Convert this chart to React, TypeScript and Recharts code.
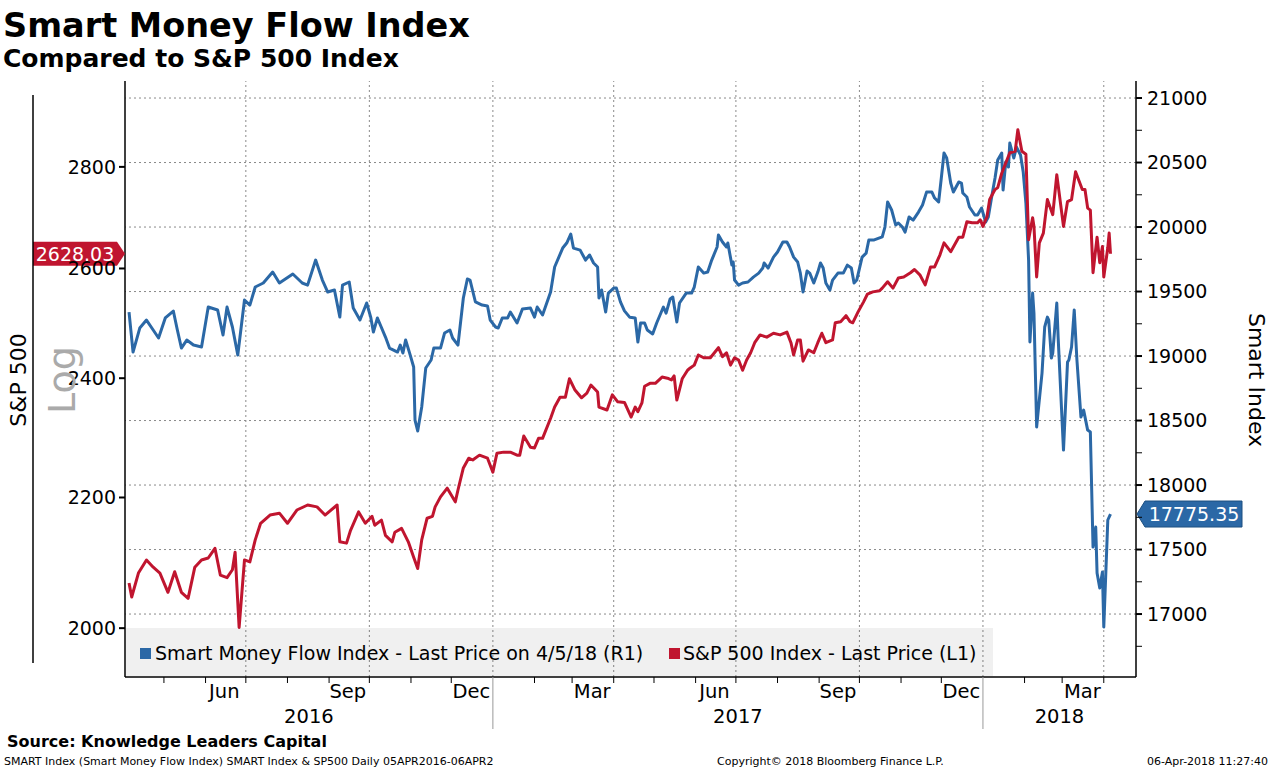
import React from 'react';
import { LineChart, Line, XAxis, YAxis, ReferenceLine, ReferenceDot } from 'recharts';

const FONT = '"DejaVu Sans", Verdana, sans-serif';
const BLUE = '#2b68a6';
const RED = '#c0152f';
const GRID = '#8a8a8a';

// day offsets are counted from 2016-04-05 (first trading day shown)
const ORIGIN = Date.UTC(2016, 3, 5);
const day = (iso: string) => {
  const [y, m, d] = iso.split('-').map(Number);
  return Math.round((Date.UTC(y, m - 1, d) - ORIGIN) / 86400000);
};

const X_DOMAIN: [number, number] = [day('2016-04-02'), day('2018-04-25')];
const LEFT_DOMAIN: [number, number] = [1930, 2981];
const RIGHT_DOMAIN: [number, number] = [16512, 21132];

// Smart Money Flow Index, [day, value], right axis
const smartIndex: [number, number][] = [
  [0, 19341], [3, 19031], [8, 19217], [13, 19279], [18, 19202], [22, 19140], [27, 19295], [33, 19349],
  [36, 19202], [39, 19062], [43, 19124], [48, 19085], [54, 19070], [59, 19380], [66, 19357], [70, 19163],
  [73, 19380], [77, 19225], [81, 19008], [86, 19434], [90, 19395], [94, 19535], [100, 19566], [107, 19651],
  [112, 19566], [122, 19636], [129, 19566], [133, 19550], [139, 19744], [144, 19589], [148, 19496], [153, 19512],
  [157, 19302], [159, 19550], [164, 19574], [167, 19372], [172, 19279], [177, 19411], [180, 19302], [182, 19186],
  [185, 19295], [191, 19147], [194, 19062], [200, 19031], [202, 19085], [204, 19023], [206, 19124], [209, 19023],
  [212, 18915], [213, 18504], [215, 18419], [218, 18605], [221, 18907], [225, 18969], [227, 19062], [232, 19062],
  [235, 19178], [239, 19202], [241, 19140], [245, 19085], [249, 19450], [252, 19597], [254, 19589], [258, 19419],
  [263, 19395], [267, 19388], [269, 19279], [273, 19225], [275, 19217], [278, 19295], [282, 19295], [284, 19341],
  [289, 19256], [293, 19364], [299, 19372], [302, 19302], [304, 19380], [308, 19318], [314, 19496], [317, 19690],
  [323, 19837], [326, 19876], [329, 19946], [331, 19837], [336, 19821], [340, 19744], [343, 19783], [346, 19721],
  [349, 19690], [350, 19450], [352, 19512], [355, 19341], [357, 19488], [361, 19527], [363, 19527], [366, 19420],
  [369, 19350], [373, 19300], [377, 19295], [379, 19109], [381, 19256], [384, 19256], [386, 19202], [390, 19171],
  [393, 19256], [398, 19380], [400, 19333], [403, 19442], [405, 19457], [408, 19264], [410, 19411], [415, 19488],
  [419, 19488], [421, 19535], [424, 19690], [428, 19643], [431, 19651], [434, 19744], [438, 19845], [439, 19938],
  [442, 19884], [445, 19845], [446, 19876], [449, 19705], [450, 19729], [451, 19589], [454, 19550], [457, 19566],
  [461, 19574], [465, 19612], [469, 19643], [472, 19682], [473, 19721], [476, 19682], [480, 19767], [483, 19806],
  [487, 19884], [490, 19884], [492, 19845], [495, 19767], [498, 19729], [500, 19643], [502, 19496], [505, 19659],
  [507, 19643], [510, 19566], [513, 19651], [515, 19721], [517, 19682], [519, 19566], [522, 19512], [524, 19589],
  [528, 19643], [532, 19643], [535, 19705], [538, 19682], [540, 19566], [542, 19589], [546, 19767], [549, 19798],
  [551, 19899], [555, 19900], [561, 19923], [563, 20000], [565, 20194], [568, 20132], [571, 20016], [573, 20031],
  [576, 20000], [578, 19961], [581, 20078], [584, 20054], [588, 20116], [591, 20171], [594, 20271], [598, 20271],
  [600, 20225], [603, 20194], [605, 20380], [607, 20574], [609, 20535], [612, 20341], [614, 20271], [618, 20349],
  [620, 20341], [621, 20264], [624, 20233], [626, 20155], [630, 20093], [632, 20093], [635, 20147], [638, 20039],
  [640, 20078], [643, 20264], [645, 20380], [647, 20519], [650, 20574], [651, 20287], [653, 20504], [655, 20465],
  [656, 20651], [659, 20535], [661, 20620], [664, 20558], [666, 20426], [668, 20186], [670, 19744], [671, 19109],
  [673, 19488], [674, 19333], [676, 18450], [677, 18558], [680, 18868], [682, 19225], [684, 19302], [685, 19279],
  [687, 18984], [688, 19023], [691, 19411], [692, 19147], [696, 18271], [699, 18953], [700, 18969], [702, 19070],
  [704, 19357], [706, 18969], [709, 18527], [711, 18581], [714, 18426], [716, 18411], [718, 17519], [720, 17674],
  [721, 17318], [723, 17202], [725, 17326], [726, 16899], [729, 17729], [731, 17775.35],
];

// S&P 500 Index, [day, value], left (log) axis
const sp500: [number, number][] = [
  [0, 2067], [2, 2046], [7, 2082], [13, 2102], [18, 2091], [23, 2082], [29, 2053], [34, 2084],
  [39, 2053], [44, 2044], [49, 2091], [54, 2102], [59, 2105], [64, 2120], [68, 2079], [73, 2075],
  [77, 2087], [79, 2114], [82, 2001], [86, 2102], [90, 2099], [94, 2133], [98, 2159], [105, 2172],
  [112, 2175], [118, 2159], [125, 2180], [133, 2188], [140, 2185], [146, 2172], [155, 2188], [157, 2130],
  [162, 2128], [165, 2148], [171, 2177], [176, 2159], [181, 2170], [183, 2156], [188, 2164], [191, 2140],
  [196, 2130], [198, 2145], [203, 2151], [208, 2130], [212, 2106], [215, 2089], [218, 2133], [222, 2167],
  [226, 2170], [228, 2185], [232, 2201], [237, 2215], [243, 2193], [245, 2212], [249, 2248], [253, 2264],
  [256, 2261], [261, 2269], [267, 2264], [271, 2241], [274, 2272], [279, 2274], [284, 2274], [289, 2269],
  [291, 2269], [294, 2301], [299, 2282], [302, 2281], [305, 2297], [308, 2297], [314, 2331], [317, 2350],
  [321, 2367], [325, 2367], [328, 2399], [332, 2380], [337, 2366], [341, 2374], [344, 2388], [349, 2376],
  [350, 2350], [356, 2345], [360, 2371], [364, 2359], [369, 2358], [374, 2333], [377, 2350], [379, 2342],
  [382, 2357], [384, 2386], [388, 2391], [392, 2391], [397, 2402], [401, 2400], [404, 2397], [406, 2404],
  [408, 2362], [412, 2399], [416, 2414], [418, 2418], [421, 2423], [424, 2441], [428, 2436], [433, 2436],
  [436, 2445], [439, 2454], [442, 2438], [445, 2445], [448, 2423], [451, 2436], [454, 2432], [457, 2414],
  [460, 2432], [463, 2445], [466, 2463], [470, 2477], [475, 2473], [480, 2480], [485, 2477], [490, 2482],
  [493, 2463], [495, 2441], [498, 2468], [500, 2468], [502, 2430], [506, 2450], [510, 2445], [513, 2463],
  [516, 2480], [519, 2463], [524, 2468], [526, 2499], [530, 2501], [534, 2512], [537, 2501], [539, 2499],
  [543, 2519], [547, 2537], [550, 2552], [554, 2556], [559, 2558], [561, 2563], [565, 2575], [569, 2563],
  [573, 2582], [577, 2584], [582, 2592], [585, 2598], [589, 2588], [593, 2569], [597, 2603], [600, 2603],
  [604, 2626], [607, 2649], [612, 2632], [615, 2646], [618, 2660], [621, 2660], [624, 2690], [628, 2688],
  [632, 2688], [634, 2694], [636, 2681], [639, 2700], [641, 2734], [645, 2754], [647, 2758], [650, 2787],
  [653, 2808], [656, 2829], [660, 2832], [662, 2877], [665, 2832], [668, 2826], [670, 2655], [673, 2698],
  [674, 2681], [676, 2584], [678, 2649], [681, 2668], [684, 2734], [688, 2704], [691, 2784], [696, 2681],
  [699, 2730], [702, 2734], [705, 2790], [710, 2754], [712, 2754], [714, 2717], [716, 2713], [718, 2592],
  [721, 2660], [723, 2611], [725, 2642], [726, 2584], [729, 2640], [730, 2668], [731, 2628.03],
];

const leftTicks = [2000, 2200, 2400, 2600, 2800];
const rightTicks = [16750, 17000, 17250, 17500, 17750, 18000, 18250, 18500, 18750, 19000, 19250,
  19500, 19750, 20000, 20250, 20500, 20750, 21000];
const gridValues = [17000, 17500, 18000, 18500, 19000, 19500, 20000, 20500, 21000];

const monthStarts = ['2016-05-01', '2016-06-01', '2016-07-01', '2016-08-01', '2016-09-01', '2016-10-01',
  '2016-11-01', '2016-12-01', '2017-01-01', '2017-02-01', '2017-03-01', '2017-04-01', '2017-05-01',
  '2017-06-01', '2017-07-01', '2017-08-01', '2017-09-01', '2017-10-01', '2017-11-01', '2017-12-01',
  '2018-01-01', '2018-02-01', '2018-03-01', '2018-04-01'];
const quarterStarts = ['2016-07-01', '2016-10-01', '2017-01-01', '2017-04-01', '2017-07-01',
  '2017-10-01', '2018-01-01', '2018-04-01'];
const yearStarts = ['2017-01-01', '2018-01-01'];
const monthLabels = ['Jun', 'Sep', 'Dec', 'Mar', 'Jun', 'Sep', 'Dec', 'Mar'];
const monthLabelDates = ['2016-06-15', '2016-09-15', '2016-12-16', '2017-03-16', '2017-06-15',
  '2017-09-15', '2017-12-16', '2018-03-16'];
const years = ['2016', '2017', '2018'];

const monthStartDays = monthStarts.map(day);
const yearStartDays = yearStarts.map(day);
const monthLabelDays = monthLabelDates.map(day);
const yearBounds = [X_DOMAIN[0], ...yearStartDays, X_DOMAIN[1]];
const yearCenters = years.map((_, i) => (yearBounds[i] + yearBounds[i + 1]) / 2);
const xTicks = [...monthStartDays, ...monthLabelDays, ...yearCenters];

const smartData = smartIndex.map(([d, v]) => ({ d, v }));
const spData = sp500.map(([d, v]) => ({ d, v }));
const lastSmart = smartIndex[smartIndex.length - 1][1];
const lastSp = sp500[sp500.length - 1][1];

const XTick = (props: any) => {
  const { x, y, payload } = props;
  const v = payload.value;
  if (yearStartDays.includes(v)) {
    return <line x1={x} x2={x} y1={y} y2={y + 52} stroke="#999" strokeWidth={1} />;
  }
  if (monthStartDays.includes(v)) {
    return <line x1={x} x2={x} y1={y} y2={y + 6} stroke="#000" strokeWidth={1} />;
  }
  const mi = monthLabelDays.indexOf(v);
  if (mi >= 0) {
    return (
      <text x={x} y={y + 21} textAnchor="middle" fontSize={19.5} fontFamily={FONT} fill="#000">
        {monthLabels[mi]}
      </text>
    );
  }
  const yi = yearCenters.indexOf(v);
  if (yi >= 0) {
    return (
      <text x={x} y={y + 46} textAnchor="middle" fontSize={19.5} fontFamily={FONT} fill="#000">
        {years[yi]}
      </text>
    );
  }
  return <g />;
};

const RightTick = (props: any) => {
  const { x, y, payload } = props;
  const major = payload.value % 500 === 0;
  return (
    <g>
      <line x1={x} x2={x + 6} y1={y} y2={y} stroke="#000" strokeWidth={major ? 2 : 1} />
      {major && (
        <text x={x + 11} y={y} dy="0.36em" fontSize={19} fontFamily={FONT} fill="#000">
          {payload.value}
        </text>
      )}
    </g>
  );
};

const LeftTag = (props: any) => {
  const { cx, cy } = props;
  const pts = `${cx - 92},${cy - 12} ${cx - 8},${cy - 12} ${cx},${cy} ${cx - 8},${cy + 12} ${cx - 92},${cy + 12}`;
  return (
    <g>
      <polygon points={pts} fill={RED} />
      <text x={cx - 50} y={cy} dy="0.36em" textAnchor="middle" fontSize={19} fontFamily={FONT} fill="#fff">
        {lastSp.toFixed(2)}
      </text>
    </g>
  );
};

const RightTag = (props: any) => {
  const { cx, cy } = props;
  const pts = `${cx + 1},${cy} ${cx + 9},${cy - 13} ${cx + 106},${cy - 13} ${cx + 106},${cy + 13} ${cx + 9},${cy + 13}`;
  return (
    <g>
      <polygon points={pts} fill={BLUE} stroke="#1d4f80" strokeWidth={1} />
      <text x={cx + 58} y={cy} dy="0.36em" textAnchor="middle" fontSize={19} fontFamily={FONT} fill="#fff">
        {lastSmart.toFixed(2)}
      </text>
    </g>
  );
};

const App: React.FC = () => {
  return (
    <div style={{ position: 'absolute', left: 0, top: 0, width: 1272, height: 770, background: '#fff' }}>
      <LineChart width={1272} height={770} margin={{ top: 81, right: 36, bottom: 0, left: 25 }}>
        <XAxis
          xAxisId="x"
          type="number"
          dataKey="d"
          domain={X_DOMAIN}
          allowDataOverflow
          ticks={xTicks}
          interval={0}
          tick={(p: any) => <XTick {...p} />}
          tickLine={false}
          tickSize={0}
          tickMargin={0}
          height={93}
          axisLine={{ stroke: '#000', strokeWidth: 1.5 }}
        />
        <YAxis
          yAxisId="left"
          orientation="left"
          type="number"
          scale="log"
          domain={LEFT_DOMAIN}
          allowDataOverflow
          ticks={leftTicks}
          interval={0}
          width={100}
          tickSize={6}
          tickMargin={3}
          tickLine={{ stroke: '#000', strokeWidth: 2 }}
          axisLine={{ stroke: '#000', strokeWidth: 1.5 }}
          tick={{ fontSize: 19, fontFamily: FONT, fill: '#000' }}
        />
        <YAxis
          yAxisId="right"
          orientation="right"
          type="number"
          domain={RIGHT_DOMAIN}
          allowDataOverflow
          ticks={rightTicks}
          interval={0}
          width={100}
          tickSize={0}
          tickMargin={0}
          tickLine={false}
          axisLine={{ stroke: '#000', strokeWidth: 1.5 }}
          tick={(p: any) => <RightTick {...p} />}
        />
        {gridValues.map((v) => (
          <ReferenceLine key={`h${v}`} xAxisId="x" yAxisId="right" y={v} stroke={GRID} strokeDasharray="2 3" />
        ))}
        {quarterStarts.map(day).map((d) => (
          <ReferenceLine key={`v${d}`} xAxisId="x" yAxisId="right" x={d} stroke={GRID} strokeDasharray="2 3" />
        ))}
        <Line
          data={smartData}
          xAxisId="x"
          yAxisId="right"
          dataKey="v"
          type="linear"
          stroke={BLUE}
          strokeWidth={3}
          strokeLinejoin="round"
          dot={false}
          isAnimationActive={false}
        />
        <Line
          data={spData}
          xAxisId="x"
          yAxisId="left"
          dataKey="v"
          type="linear"
          stroke={RED}
          strokeWidth={3}
          strokeLinejoin="round"
          dot={false}
          isAnimationActive={false}
        />
        <ReferenceDot xAxisId="x" yAxisId="left" x={X_DOMAIN[0]} y={lastSp} shape={(p: any) => <LeftTag {...p} />} />
        <ReferenceDot xAxisId="x" yAxisId="right" x={X_DOMAIN[1]} y={lastSmart} shape={(p: any) => <RightTag {...p} />} />
      </LineChart>

      <svg
        width={1272}
        height={770}
        style={{ position: 'absolute', left: 0, top: 0, pointerEvents: 'none' }}
        fontFamily={FONT}
      >
        <text x={3} y={37} fontSize={33.5} fontWeight="bold" fill="#000">Smart Money Flow Index</text>
        <text x={3} y={67} fontSize={25} fontWeight="bold" fill="#000">Compared to S&amp;P 500 Index</text>

        <line x1={33} x2={33} y1={95} y2={663} stroke="#000" strokeWidth={1.5} />
        <text x={18} y={380} fontSize={22} textAnchor="middle" dominantBaseline="central"
          transform="rotate(-90 18 380)" fill="#000">S&amp;P 500</text>
        <text x={62} y={380} fontSize={38} textAnchor="middle" dominantBaseline="central"
          transform="rotate(-90 62 380)" fill="#aaa">Log</text>
        <text x={1256} y={380} fontSize={22} textAnchor="middle" dominantBaseline="central"
          transform="rotate(90 1256 380)" fill="#000">Smart Index</text>

        <rect x={126} y={628} width={867} height={48} fill="#000" fillOpacity={0.06} />
        <rect x={140} y={648} width={11} height={11} fill={BLUE} />
        <text x={155} y={660} fontSize={19} fill="#000">Smart Money Flow Index - Last Price on 4/5/18 (R1)</text>
        <rect x={669} y={648} width={11} height={11} fill={RED} />
        <text x={683} y={660} fontSize={19} fill="#000">S&amp;P 500 Index - Last Price (L1)</text>

        <text x={7} y={747} fontSize={16} fontWeight="bold" fill="#000">Source: Knowledge Leaders Capital</text>
        <text x={4} y={765} fontSize={11} fill="#000">
          SMART Index (Smart Money Flow Index) SMART Index &amp; SP500  Daily 05APR2016-06APR2
        </text>
        <text x={717} y={765} fontSize={11} fill="#000">Copyright© 2018 Bloomberg Finance L.P.</text>
        <text x={1268} y={765} fontSize={11} textAnchor="end" fill="#000">06-Apr-2018 11:27:40</text>
      </svg>
    </div>
  );
};

export default App;
